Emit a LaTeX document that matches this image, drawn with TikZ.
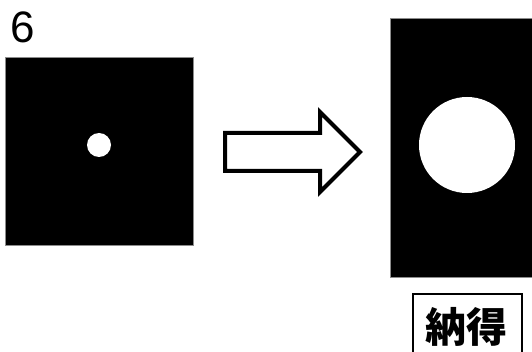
\documentclass[tikz,border=0pt]{standalone}
\usepackage{fontspec}
\setmainfont{Liberation Sans}
\newfontfamily\cjk{Noto Sans CJK JP}
\begin{document}
\begin{tikzpicture}[x=1pt,y=-1pt,
  panel/.style={fill=black,draw=black!45,line width=0.8pt},
  spot/.style={fill=white,draw=none},
  bigarrow/.style={draw=black,fill=white,line width=4pt,line join=miter},
  tagbox/.style={draw=black,line width=2pt,fill=white}]
\useasboundingbox (0,0) rectangle (532,352);
% step number
\node[anchor=base west,inner sep=0pt,font=\fontsize{44}{44}\selectfont] (num) at (10,43) {6};
% small spot
\draw[panel] (5,57) rectangle (193,245);
\coordinate (left) at (99,145);
\fill[spot] (left) circle (12);
% hollow block arrow
\draw[bigarrow] (225,133) -- (320,133) -- (320,112) -- (360,152) -- (320,192) -- (320,171) -- (225,171) -- cycle;
% large spot
\draw[panel] (390,18) rectangle (534,277);
\coordinate (right) at (467,145);
\fill[spot] (right) circle (48);
% verdict tag
\draw[tagbox] (413,294) rectangle (522,362);
\node[inner sep=0pt,font=\cjk\bfseries\fontsize{41}{41}\selectfont] (tag) at (466,327) {納得};
\end{tikzpicture}
\end{document}
